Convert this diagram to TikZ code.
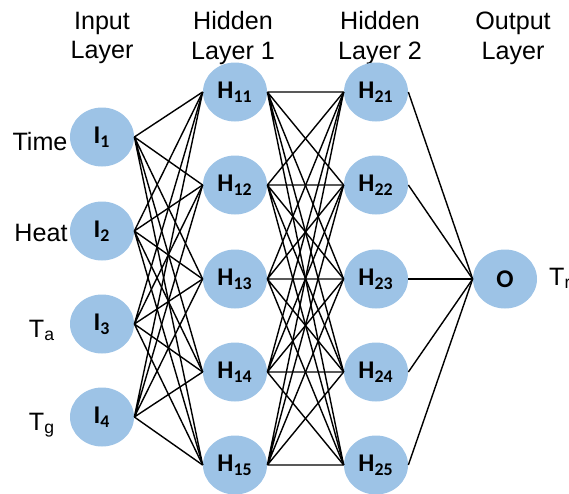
\documentclass[tikz,border=0pt]{standalone}
\usepackage{fontspec}
\setmainfont{Liberation Sans}
\newfontfamily\neuronfont{Carlito}
\usetikzlibrary{shapes.geometric}
\definecolor{neuronblue}{HTML}{9DC3E6}
\tikzset{
  neuron/.style={ellipse, fill=neuronblue, minimum width=1.28cm, minimum height=1.18cm,
    inner sep=0pt, font=\neuronfont\bfseries\fontsize{14.5}{16}\selectfont},
  layertitle/.style={align=center, font=\fontsize{14.3}{17}\selectfont},
  varlabel/.style={anchor=base, font=\fontsize{14.3}{16}\selectfont},
  link/.style={line width=0.8pt}
}

\begin{document}
\begin{tikzpicture}
    \useasboundingbox (0, 0) rectangle (11.38, 9.86);

    \node[layertitle] (tin) at (2.04, 9.1) {Input\\Layer};
    \node[layertitle] (th1) at (4.66, 9.1) {Hidden\\Layer 1};
    \node[layertitle] (th2) at (7.6, 9.1) {Hidden\\Layer 2};
    \node[layertitle] (tout) at (10.26, 9.1) {Output\\Layer};

    \node[neuron] (I1) at (2.04, 7.12) {I\textsubscript{1}};
    \node[neuron] (I2) at (2.04, 5.24) {I\textsubscript{2}};
    \node[neuron] (I3) at (2.04, 3.38) {I\textsubscript{3}};
    \node[neuron] (I4) at (2.04, 1.52) {I\textsubscript{4}};

    \node[neuron] (H11) at (4.7, 8.02) {H\textsubscript{11}};
    \node[neuron] (H12) at (4.7, 6.16) {H\textsubscript{12}};
    \node[neuron] (H13) at (4.7, 4.28) {H\textsubscript{13}};
    \node[neuron] (H14) at (4.7, 2.42) {H\textsubscript{14}};
    \node[neuron] (H15) at (4.7, 0.56) {H\textsubscript{15}};

    \node[neuron] (H21) at (7.52, 8.02) {H\textsubscript{21}};
    \node[neuron] (H22) at (7.52, 6.16) {H\textsubscript{22}};
    \node[neuron] (H23) at (7.52, 4.28) {H\textsubscript{23}};
    \node[neuron] (H24) at (7.52, 2.42) {H\textsubscript{24}};
    \node[neuron] (H25) at (7.52, 0.56) {H\textsubscript{25}};

    \node[neuron] (O) at (10.1, 4.28) {O};

    \node[varlabel] (time) at (0.8, 6.86) {Time};
    \node[varlabel] (heat) at (0.82, 5.04) {Heat};
    \node[varlabel] (ta) at (0.84, 3.12) {T\textsubscript{a}};
    \node[varlabel] (tg) at (0.84, 1.26) {T\textsubscript{g}};
    \node[varlabel, anchor=base west] (tr) at (10.86, 4.16) {T\textsubscript{r}};

    % input -> hidden 1
    \draw[link] (I1.east) -- (H11.west) (I1.east) -- (H12.west) (I1.east) -- (H13.west) (I1.east) -- (H14.west) (I1.east) -- (H15.west);
    \draw[link] (I2.east) -- (H11.west) (I2.east) -- (H12.west) (I2.east) -- (H13.west) (I2.east) -- (H14.west) (I2.east) -- (H15.west);
    \draw[link] (I3.east) -- (H11.west) (I3.east) -- (H12.west) (I3.east) -- (H13.west) (I3.east) -- (H14.west) (I3.east) -- (H15.west);
    \draw[link] (I4.east) -- (H11.west) (I4.east) -- (H12.west) (I4.east) -- (H13.west) (I4.east) -- (H14.west) (I4.east) -- (H15.west);

    % hidden 1 -> hidden 2
    \draw[link] (H11.east) -- (H21.west) (H11.east) -- (H22.west) (H11.east) -- (H23.west) (H11.east) -- (H24.west) (H11.east) -- (H25.west);
    \draw[link] (H12.east) -- (H21.west) (H12.east) -- (H22.west) (H12.east) -- (H23.west) (H12.east) -- (H24.west) (H12.east) -- (H25.west);
    \draw[link] (H13.east) -- (H21.west) (H13.east) -- (H22.west) (H13.east) -- (H23.west) (H13.east) -- (H24.west) (H13.east) -- (H25.west);
    \draw[link] (H14.east) -- (H21.west) (H14.east) -- (H22.west) (H14.east) -- (H23.west) (H14.east) -- (H24.west) (H14.east) -- (H25.west);
    \draw[link] (H15.east) -- (H21.west) (H15.east) -- (H22.west) (H15.east) -- (H23.west) (H15.east) -- (H24.west) (H15.east) -- (H25.west);

    % hidden 2 -> output
    \draw[link] (H21.east) -- (O.west);
    \draw[link] (H22.east) -- (O.west);
    \draw[link] (H23.east) -- (O.west);
    \draw[link] (H24.east) -- (O.west);
    \draw[link] (H25.east) -- (O.west);
  \end{tikzpicture}
\end{document}
